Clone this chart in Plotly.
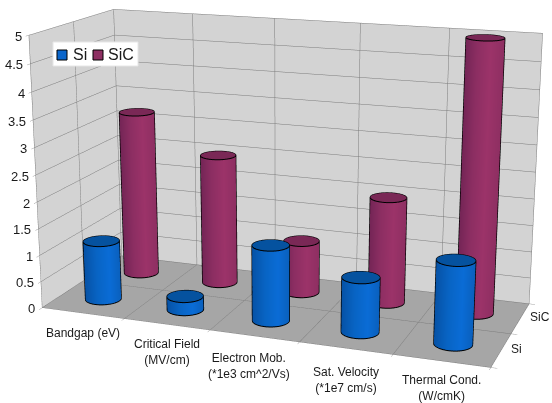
import numpy as np
import plotly.graph_objects as go

# Chart content
categories = ["Bandgap (eV)", "Critical Field<br>(MV/cm)", "Electron Mob.<br>(*1e3 cm^2/Vs)",
              "Sat. Velocity<br>(*1e7 cm/s)", "Thermal Cond.<br>(W/cmK)"]
si_values = [1.12, 0.25, 1.4, 1.0, 1.5]
sic_values = [3.2, 2.5, 1.0, 2.0, 5.0]
series_names = ["Si", "SiC"]
z_ticks = [0, 0.5, 1, 1.5, 2, 2.5, 3, 3.5, 4, 4.5, 5]
z_tick_text = ["0", "0.5", "1", "1.5", "2", "2.5", "3", "3.5", "4", "4.5", "5"]

# Page window and the enlarged canvas, which narrows the scene's field of view
WIN_W, WIN_H = 552, 403
CANVAS_W, CANVAS_H = WIN_W * 3, WIN_H * 3
OFFSET_X, OFFSET_Y = 545, 395

ASPECT = dict(x=1.6, y=0.629, z=0.964)
EYE = np.array([1.659, -4.561, 1.276])
CENTER = np.array([0.141, -0.421, 0.0])

X_RANGE, Y_RANGE, Z_RANGE = (0, 5), (0, 2), (0, 5)

FONT = "Liberation Sans"
TEXT = "#1a1a1a"
BLUE = dict(side=[[0, "#0a60bd"], [0.3, "#0a6cd6"], [0.65, "#0864c4"], [1, "#0652a6"]], cap="#05529f")
PURPLE = dict(side=[[0, "#8e2f62"], [0.35, "#9c3369"], [0.7, "#8c2e62"], [1, "#742556"]], cap="#7a2856")

sx = ASPECT["x"] / (X_RANGE[1] - X_RANGE[0])
sy = ASPECT["y"] / (Y_RANGE[1] - Y_RANGE[0])
R_SCENE = 0.197 * sx


def paper_x(px):
    return (px + OFFSET_X) / CANVAS_W


def paper_y(py):
    return 1 - (py + OFFSET_Y) / CANVAS_H


def cylinder(cx, cy, height, colors):
    """Side wall, cap and black outline of one bar."""
    # Scene-space position of the bar axis, used to shade towards the viewer
    axis = np.array([(cx - 2.5) * sx, (cy - 1) * sy])
    to_eye = EYE[:2] - axis
    dist = np.linalg.norm(to_eye)
    phi = np.arctan2(to_eye[1], to_eye[0])
    right = np.array([-to_eye[1], to_eye[0]]) / dist * -1

    theta = np.linspace(0, 2 * np.pi, 73)
    xs = cx + R_SCENE * np.cos(theta) / sx
    ys = cy + R_SCENE * np.sin(theta) / sy
    shade = (np.cos(theta) * right[0] + np.sin(theta) * right[1] + 1) / 2

    traces = [go.Surface(
        x=np.vstack([xs, xs]), y=np.vstack([ys, ys]),
        z=np.vstack([np.zeros_like(xs), np.full_like(xs, height)]),
        surfacecolor=np.vstack([shade, shade]), cmin=0, cmax=1, colorscale=colors["side"],
        showscale=False, hoverinfo="skip",
        lighting=dict(ambient=1, diffuse=0, specular=0, fresnel=0, roughness=1))]

    rings = np.array([0.0, 1.0])
    traces.append(go.Surface(
        x=cx + np.outer(rings, R_SCENE * np.cos(theta) / sx),
        y=cy + np.outer(rings, R_SCENE * np.sin(theta) / sy),
        z=np.full((2, theta.size), height),
        surfacecolor=np.zeros((2, theta.size)), cmin=0, cmax=1,
        colorscale=[[0, colors["cap"]], [1, colors["cap"]]],
        showscale=False, hoverinfo="skip",
        lighting=dict(ambient=1, diffuse=0, specular=0, fresnel=0, roughness=1)))

    grow = 1.01
    ox = cx + grow * R_SCENE * np.cos(theta) / sx
    oy = cy + grow * R_SCENE * np.sin(theta) / sy
    outline = dict(color="#000000", width=2)
    traces.append(go.Scatter3d(x=ox, y=oy, z=np.full_like(ox, height), mode="lines",
                               line=outline, hoverinfo="skip", showlegend=False))
    traces.append(go.Scatter3d(x=ox, y=oy, z=np.zeros_like(ox), mode="lines",
                               line=outline, hoverinfo="skip", showlegend=False))
    spread = np.arccos(R_SCENE / dist)
    for a in (phi - spread, phi + spread):
        traces.append(go.Scatter3d(
            x=[cx + grow * R_SCENE * np.cos(a) / sx] * 2,
            y=[cy + grow * R_SCENE * np.sin(a) / sy] * 2,
            z=[0, height], mode="lines", line=outline, hoverinfo="skip", showlegend=False))
    return traces


fig = go.Figure()
for i, value in enumerate(sic_values):
    for tr in cylinder(i + 0.5, 1.5, value, PURPLE):
        fig.add_trace(tr)
for i, value in enumerate(si_values):
    for tr in cylinder(i + 0.5, 0.5, value, BLUE):
        fig.add_trace(tr)

# Nudges that keep the two-line category labels clear of the floor edge
label_dx = [0, 0, -5, 0, 0]
label_dy = [-11, -11, -13, -15, -10]

scene_labels = []
for i, label in enumerate(categories):
    scene_labels.append(dict(x=i + 0.5, y=0, z=0, text=label, showarrow=False,
                             xanchor="center", yanchor="top",
                             xshift=label_dx[i], yshift=label_dy[i],
                             font=dict(family=FONT, size=12, color=TEXT)))
for j, label in enumerate(series_names):
    scene_labels.append(dict(x=5, y=j + 0.5, z=0, text=label, showarrow=False,
                             xanchor="left", yanchor="middle", xshift=8, yshift=1,
                             font=dict(family=FONT, size=12, color=TEXT)))
for value, label in zip(z_ticks, z_tick_text):
    scene_labels.append(dict(x=0, y=0, z=value, text=label, showarrow=False,
                             xanchor="right", yanchor="middle", xshift=-5, yshift=-1,
                             font=dict(family=FONT, size=13, color=TEXT)))

grid = dict(showticklabels=False, showspikes=False, title="", showbackground=True,
            gridcolor="#7a7a7a", gridwidth=1, zeroline=False, showline=False,
            ticks="outside", ticklen=5, tickwidth=1, tickcolor="#9a9a9a")

fig.update_layout(
    width=CANVAS_W, height=CANVAS_H, autosize=False,
    margin=dict(l=0, r=0, t=0, b=0), showlegend=False, paper_bgcolor="#ffffff",
    scene=dict(
        domain=dict(x=[0, 1], y=[0, 1]),
        aspectmode="manual", aspectratio=ASPECT,
        camera=dict(eye=dict(x=EYE[0], y=EYE[1], z=EYE[2]),
                    center=dict(x=CENTER[0], y=CENTER[1], z=CENTER[2]),
                    up=dict(x=0, y=0, z=1)),
        xaxis=dict(grid, range=list(X_RANGE), tickvals=[0, 1, 2, 3, 4, 5], backgroundcolor="#d3d3d3"),
        yaxis=dict(grid, range=list(Y_RANGE), tickvals=[0, 1, 2], backgroundcolor="#d3d3d3"),
        zaxis=dict(grid, range=list(Z_RANGE), tickvals=z_ticks, backgroundcolor="#a6a6a6"),
        annotations=scene_labels,
    ),
    shapes=[
        dict(type="rect", xref="paper", yref="paper", x0=paper_x(53), x1=paper_x(138),
             y0=paper_y(42), y1=paper_y(66), fillcolor="#ffffff", line=dict(color="#e6e6e6", width=1)),
        dict(type="rect", xref="paper", yref="paper", x0=paper_x(57), x1=paper_x(67),
             y0=paper_y(50), y1=paper_y(60), fillcolor="#0a66cc", line=dict(color="#000000", width=1)),
        dict(type="rect", xref="paper", yref="paper", x0=paper_x(93), x1=paper_x(103),
             y0=paper_y(50), y1=paper_y(60), fillcolor="#8e2f62", line=dict(color="#000000", width=1)),
    ],
    annotations=[
        dict(xref="paper", yref="paper", x=paper_x(71), y=paper_y(55), text=series_names[0],
             showarrow=False, xanchor="left", yanchor="middle", font=dict(family=FONT, size=16, color=TEXT)),
        dict(xref="paper", yref="paper", x=paper_x(106), y=paper_y(55), text=series_names[1],
             showarrow=False, xanchor="left", yanchor="middle", font=dict(family=FONT, size=16, color=TEXT)),
    ],
)

# Hold the canvas in place so its middle section fills the window
crop = (
    "var gd=document.querySelector('.plotly-graph-div');"
    "gd.style.position='absolute';"
    f"gd.style.left='-{OFFSET_X}px';gd.style.top='-{OFFSET_Y}px';"
    "document.documentElement.style.overflow='hidden';document.body.style.overflow='hidden';"
)
fig.write_html("out.html", post_script=crop, config=dict(displayModeBar=False))
